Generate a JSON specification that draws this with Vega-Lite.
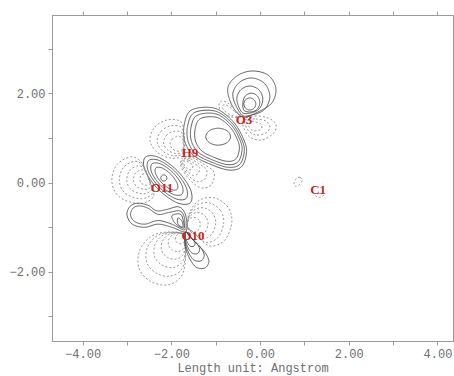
{
"$schema":"https://vega.github.io/schema/vega-lite/v6.json",
"width":401,"height":326,
"autosize":{"type":"none"},
"padding":{"left":52,"top":15,"right":1,"bottom":35},
"background":"white",
"config":{"view":{"stroke":"#9a9a9a","strokeWidth":1},
"axis":{"domainColor":"#9a9a9a","tickColor":"#9a9a9a","labelColor":"#6e6e6e","labelFont":"Liberation Mono","labelFontSize":12,"titleFont":"Liberation Mono","titleFontSize":12,"titleFontWeight":"normal","titleColor":"#6e6e6e","grid":false,"tickSize":4}},
"datasets":{
"atoms":[{"a":"O3","x":-0.36,"y":1.41},{"a":"H9","x":-1.58,"y":0.67},{"a":"O11","x":-2.21,"y":-0.12},{"a":"O10","x":-1.51,"y":-1.2},{"a":"C1","x":1.31,"y":-0.16}],
"ct":[
{"c":"A1","s":"p","i":0,"x":-0.185,"y":2.504},{"c":"A1","s":"p","i":1,"x":0.176,"y":2.415},{"c":"A1","s":"p","i":2,"x":0.356,"y":2.123},{"c":"A1","s":"p","i":3,"x":0.266,"y":1.787},{"c":"A1","s":"p","i":4,"x":-0.05,"y":1.585},{"c":"A1","s":"p","i":5,"x":-0.388,"y":1.473},{"c":"A1","s":"p","i":6,"x":-0.635,"y":1.742},{"c":"A1","s":"p","i":7,"x":-0.726,"y":2.123},{"c":"A1","s":"p","i":8,"x":-0.523,"y":2.392},
{"c":"A2","s":"p","i":0,"x":0.221,"y":1.933},{"c":"A2","s":"p","i":1,"x":0.099,"y":2.226},{"c":"A2","s":"p","i":2,"x":-0.196,"y":2.348},{"c":"A2","s":"p","i":3,"x":-0.491,"y":2.226},{"c":"A2","s":"p","i":4,"x":-0.613,"y":1.933},{"c":"A2","s":"p","i":5,"x":-0.42,"y":1.53},{"c":"A2","s":"p","i":6,"x":-0.196,"y":1.518},{"c":"A2","s":"p","i":7,"x":0.099,"y":1.64},
{"c":"A3","s":"p","i":0,"x":0.063,"y":1.865},{"c":"A3","s":"p","i":1,"x":-0.023,"y":2.079},{"c":"A3","s":"p","i":2,"x":-0.23,"y":2.168},{"c":"A3","s":"p","i":3,"x":-0.437,"y":2.079},{"c":"A3","s":"p","i":4,"x":-0.523,"y":1.865},{"c":"A3","s":"p","i":5,"x":-0.41,"y":1.58},{"c":"A3","s":"p","i":6,"x":-0.23,"y":1.562},{"c":"A3","s":"p","i":7,"x":-0.023,"y":1.651},
{"c":"A4","s":"p","i":0,"x":-0.006,"y":1.798},{"c":"A4","s":"p","i":1,"x":-0.062,"y":1.946},{"c":"A4","s":"p","i":2,"x":-0.196,"y":2.008},{"c":"A4","s":"p","i":3,"x":-0.33,"y":1.946},{"c":"A4","s":"p","i":4,"x":-0.386,"y":1.798},{"c":"A4","s":"p","i":5,"x":-0.36,"y":1.62},{"c":"A4","s":"p","i":6,"x":-0.196,"y":1.588},{"c":"A4","s":"p","i":7,"x":-0.062,"y":1.65},
{"c":"A5","s":"p","i":0,"x":-0.095,"y":1.765},{"c":"A5","s":"p","i":1,"x":-0.135,"y":1.86},{"c":"A5","s":"p","i":2,"x":-0.23,"y":1.9},{"c":"A5","s":"p","i":3,"x":-0.325,"y":1.86},{"c":"A5","s":"p","i":4,"x":-0.365,"y":1.765},{"c":"A5","s":"p","i":5,"x":-0.325,"y":1.67},{"c":"A5","s":"p","i":6,"x":-0.23,"y":1.63},{"c":"A5","s":"p","i":7,"x":-0.135,"y":1.67},
{"c":"B1","s":"p","i":0,"x":-1.544,"y":1.63},{"c":"B1","s":"p","i":1,"x":-1.019,"y":1.668},{"c":"B1","s":"p","i":2,"x":-0.606,"y":1.368},{"c":"B1","s":"p","i":3,"x":-0.381,"y":0.996},{"c":"B1","s":"p","i":4,"x":-0.304,"y":0.695},{"c":"B1","s":"p","i":5,"x":-0.417,"y":0.359},{"c":"B1","s":"p","i":6,"x":-0.719,"y":0.285},{"c":"B1","s":"p","i":7,"x":-1.17,"y":0.435},{"c":"B1","s":"p","i":8,"x":-1.508,"y":0.621},{"c":"B1","s":"p","i":9,"x":-1.695,"y":0.919},{"c":"B1","s":"p","i":10,"x":-1.71,"y":1.294},
{"c":"B2","s":"p","i":0,"x":-1.482,"y":1.57},{"c":"B2","s":"p","i":1,"x":-1.005,"y":1.604},{"c":"B2","s":"p","i":2,"x":-0.629,"y":1.331},{"c":"B2","s":"p","i":3,"x":-0.424,"y":0.993},{"c":"B2","s":"p","i":4,"x":-0.354,"y":0.719},{"c":"B2","s":"p","i":5,"x":-0.457,"y":0.413},{"c":"B2","s":"p","i":6,"x":-0.732,"y":0.346},{"c":"B2","s":"p","i":7,"x":-1.142,"y":0.482},{"c":"B2","s":"p","i":8,"x":-1.45,"y":0.652},{"c":"B2","s":"p","i":9,"x":-1.62,"y":0.923},{"c":"B2","s":"p","i":10,"x":-1.634,"y":1.264},
{"c":"B3","s":"p","i":0,"x":-1.421,"y":1.509},{"c":"B3","s":"p","i":1,"x":-0.99,"y":1.541},{"c":"B3","s":"p","i":2,"x":-0.652,"y":1.295},{"c":"B3","s":"p","i":3,"x":-0.467,"y":0.99},{"c":"B3","s":"p","i":4,"x":-0.404,"y":0.743},{"c":"B3","s":"p","i":5,"x":-0.497,"y":0.467},{"c":"B3","s":"p","i":6,"x":-0.744,"y":0.406},{"c":"B3","s":"p","i":7,"x":-1.114,"y":0.529},{"c":"B3","s":"p","i":8,"x":-1.391,"y":0.682},{"c":"B3","s":"p","i":9,"x":-1.545,"y":0.926},{"c":"B3","s":"p","i":10,"x":-1.557,"y":1.234},
{"c":"B4","s":"p","i":0,"x":-1.346,"y":1.436},{"c":"B4","s":"p","i":1,"x":-0.973,"y":1.463},{"c":"B4","s":"p","i":2,"x":-0.68,"y":1.25},{"c":"B4","s":"p","i":3,"x":-0.52,"y":0.986},{"c":"B4","s":"p","i":4,"x":-0.465,"y":0.772},{"c":"B4","s":"p","i":5,"x":-0.545,"y":0.533},{"c":"B4","s":"p","i":6,"x":-0.76,"y":0.481},{"c":"B4","s":"p","i":7,"x":-1.08,"y":0.587},{"c":"B4","s":"p","i":8,"x":-1.32,"y":0.719},{"c":"B4","s":"p","i":9,"x":-1.453,"y":0.931},{"c":"B4","s":"p","i":10,"x":-1.464,"y":1.197},
{"c":"B5","s":"p","i":0,"x":-0.664,"y":1.031},{"c":"B5","s":"p","i":1,"x":-0.746,"y":1.165},{"c":"B5","s":"p","i":2,"x":-0.944,"y":1.221},{"c":"B5","s":"p","i":3,"x":-1.142,"y":1.165},{"c":"B5","s":"p","i":4,"x":-1.224,"y":1.031},{"c":"B5","s":"p","i":5,"x":-1.142,"y":0.897},{"c":"B5","s":"p","i":6,"x":-0.944,"y":0.841},{"c":"B5","s":"p","i":7,"x":-0.746,"y":0.897},
{"c":"C1","s":"n","i":0,"x":-0.388,"y":1.428},{"c":"C1","s":"n","i":1,"x":-0.117,"y":1.495},{"c":"C1","s":"n","i":2,"x":0.176,"y":1.451},{"c":"C1","s":"n","i":3,"x":0.356,"y":1.316},{"c":"C1","s":"n","i":4,"x":0.311,"y":1.114},{"c":"C1","s":"n","i":5,"x":0.041,"y":0.957},{"c":"C1","s":"n","i":6,"x":-0.23,"y":1.025},{"c":"C1","s":"n","i":7,"x":-0.365,"y":1.226},
{"c":"C2","s":"n","i":0,"x":-0.343,"y":1.406},{"c":"C2","s":"n","i":1,"x":-0.095,"y":1.428},{"c":"C2","s":"n","i":2,"x":0.131,"y":1.383},{"c":"C2","s":"n","i":3,"x":0.221,"y":1.249},{"c":"C2","s":"n","i":4,"x":0.131,"y":1.114},{"c":"C2","s":"n","i":5,"x":-0.095,"y":1.07},{"c":"C2","s":"n","i":6,"x":-0.275,"y":1.182},
{"c":"C3","s":"n","i":0,"x":-0.297,"y":1.383},{"c":"C3","s":"n","i":1,"x":-0.095,"y":1.361},{"c":"C3","s":"n","i":2,"x":0.041,"y":1.294},{"c":"C3","s":"n","i":3,"x":-0.005,"y":1.182},{"c":"C3","s":"n","i":4,"x":-0.185,"y":1.182},
{"c":"D1","s":"n","i":0,"x":-0.41,"y":1.473},{"c":"D1","s":"n","i":1,"x":-0.568,"y":1.63},{"c":"D1","s":"n","i":2,"x":-0.726,"y":1.787},{"c":"D1","s":"n","i":3,"x":-0.861,"y":1.832},{"c":"D1","s":"n","i":4,"x":-0.928,"y":1.743},{"c":"D1","s":"n","i":5,"x":-0.861,"y":1.585},{"c":"D1","s":"n","i":6,"x":-0.635,"y":1.473},
{"c":"D2","s":"n","i":0,"x":-0.42,"y":1.49},{"c":"D2","s":"n","i":1,"x":-0.58,"y":1.6},{"c":"D2","s":"n","i":2,"x":-0.72,"y":1.72},{"c":"D2","s":"n","i":3,"x":-0.83,"y":1.74},{"c":"D2","s":"n","i":4,"x":-0.82,"y":1.63},{"c":"D2","s":"n","i":5,"x":-0.64,"y":1.51},
{"c":"E1","s":"n","i":0,"x":-2.483,"y":0.957},{"c":"E1","s":"n","i":1,"x":-2.371,"y":1.249},{"c":"E1","s":"n","i":2,"x":-2.1,"y":1.406},{"c":"E1","s":"n","i":3,"x":-1.807,"y":1.383},{"c":"E1","s":"n","i":4,"x":-1.72,"y":1.18},{"c":"E1","s":"n","i":5,"x":-1.7,"y":0.85},{"c":"E1","s":"n","i":6,"x":-1.74,"y":0.599},{"c":"E1","s":"n","i":7,"x":-2.033,"y":0.554},{"c":"E1","s":"n","i":8,"x":-2.326,"y":0.688},
{"c":"E2","s":"n","i":0,"x":-2.322,"y":0.922},{"c":"E2","s":"n","i":1,"x":-2.234,"y":1.15},{"c":"E2","s":"n","i":2,"x":-2.023,"y":1.273},{"c":"E2","s":"n","i":3,"x":-1.794,"y":1.255},{"c":"E2","s":"n","i":4,"x":-1.727,"y":1.096},{"c":"E2","s":"n","i":5,"x":-1.711,"y":0.839},{"c":"E2","s":"n","i":6,"x":-1.742,"y":0.643},{"c":"E2","s":"n","i":7,"x":-1.971,"y":0.608},{"c":"E2","s":"n","i":8,"x":-2.199,"y":0.713},
{"c":"E3","s":"n","i":0,"x":-2.175,"y":0.891},{"c":"E3","s":"n","i":1,"x":-2.11,"y":1.06},{"c":"E3","s":"n","i":2,"x":-1.953,"y":1.151},{"c":"E3","s":"n","i":3,"x":-1.783,"y":1.138},{"c":"E3","s":"n","i":4,"x":-1.733,"y":1.02},{"c":"E3","s":"n","i":5,"x":-1.721,"y":0.829},{"c":"E3","s":"n","i":6,"x":-1.744,"y":0.683},{"c":"E3","s":"n","i":7,"x":-1.914,"y":0.657},{"c":"E3","s":"n","i":8,"x":-2.084,"y":0.735},
{"c":"E4","s":"n","i":0,"x":-2.029,"y":0.86},{"c":"E4","s":"n","i":1,"x":-1.986,"y":0.971},{"c":"E4","s":"n","i":2,"x":-1.883,"y":1.03},{"c":"E4","s":"n","i":3,"x":-1.772,"y":1.022},{"c":"E4","s":"n","i":4,"x":-1.739,"y":0.944},{"c":"E4","s":"n","i":5,"x":-1.731,"y":0.819},{"c":"E4","s":"n","i":6,"x":-1.746,"y":0.724},{"c":"E4","s":"n","i":7,"x":-1.858,"y":0.707},{"c":"E4","s":"n","i":8,"x":-1.969,"y":0.757},
{"c":"F1","s":"n","i":0,"x":-1.74,"y":0.56},{"c":"F1","s":"n","i":1,"x":-1.52,"y":0.56},{"c":"F1","s":"n","i":2,"x":-1.28,"y":0.42},{"c":"F1","s":"n","i":3,"x":-1.041,"y":0.24},{"c":"F1","s":"n","i":4,"x":-1.086,"y":-0.029},{"c":"F1","s":"n","i":5,"x":-1.312,"y":-0.119},{"c":"F1","s":"n","i":6,"x":-1.582,"y":0.061},{"c":"F1","s":"n","i":7,"x":-1.785,"y":0.374},
{"c":"F2","s":"n","i":0,"x":-1.73,"y":0.533},{"c":"F2","s":"n","i":1,"x":-1.565,"y":0.533},{"c":"F2","s":"n","i":2,"x":-1.385,"y":0.427},{"c":"F2","s":"n","i":3,"x":-1.206,"y":0.292},{"c":"F2","s":"n","i":4,"x":-1.239,"y":0.091},{"c":"F2","s":"n","i":5,"x":-1.409,"y":0.023},{"c":"F2","s":"n","i":6,"x":-1.611,"y":0.158},{"c":"F2","s":"n","i":7,"x":-1.764,"y":0.393},
{"c":"F3","s":"n","i":0,"x":-1.72,"y":0.505},{"c":"F3","s":"n","i":1,"x":-1.61,"y":0.505},{"c":"F3","s":"n","i":2,"x":-1.49,"y":0.435},{"c":"F3","s":"n","i":3,"x":-1.37,"y":0.345},{"c":"F3","s":"n","i":4,"x":-1.393,"y":0.21},{"c":"F3","s":"n","i":5,"x":-1.506,"y":0.165},{"c":"F3","s":"n","i":6,"x":-1.641,"y":0.255},{"c":"F3","s":"n","i":7,"x":-1.743,"y":0.412},
{"c":"F4","s":"n","i":0,"x":-1.711,"y":0.481},{"c":"F4","s":"n","i":1,"x":-1.65,"y":0.481},{"c":"F4","s":"n","i":2,"x":-1.582,"y":0.442},{"c":"F4","s":"n","i":3,"x":-1.515,"y":0.391},{"c":"F4","s":"n","i":4,"x":-1.528,"y":0.316},{"c":"F4","s":"n","i":5,"x":-1.591,"y":0.291},{"c":"F4","s":"n","i":6,"x":-1.667,"y":0.341},{"c":"F4","s":"n","i":7,"x":-1.724,"y":0.429},
{"c":"G1","s":"p","i":0,"x":-1.571,"y":-0.449},{"c":"G1","s":"p","i":1,"x":-1.57,"y":-0.15},{"c":"G1","s":"p","i":2,"x":-1.868,"y":0.272},{"c":"G1","s":"p","i":3,"x":-2.29,"y":0.57},{"c":"G1","s":"p","i":4,"x":-2.589,"y":0.569},{"c":"G1","s":"p","i":5,"x":-2.59,"y":0.27},{"c":"G1","s":"p","i":6,"x":-2.292,"y":-0.152},{"c":"G1","s":"p","i":7,"x":-1.87,"y":-0.45},
{"c":"G2","s":"p","i":0,"x":-1.666,"y":-0.354},{"c":"G2","s":"p","i":1,"x":-1.665,"y":-0.105},{"c":"G2","s":"p","i":2,"x":-1.913,"y":0.247},{"c":"G2","s":"p","i":3,"x":-2.265,"y":0.495},{"c":"G2","s":"p","i":4,"x":-2.514,"y":0.494},{"c":"G2","s":"p","i":5,"x":-2.515,"y":0.245},{"c":"G2","s":"p","i":6,"x":-2.267,"y":-0.107},{"c":"G2","s":"p","i":7,"x":-1.915,"y":-0.355},
{"c":"G3","s":"p","i":0,"x":-1.761,"y":-0.259},{"c":"G3","s":"p","i":1,"x":-1.76,"y":-0.06},{"c":"G3","s":"p","i":2,"x":-1.959,"y":0.221},{"c":"G3","s":"p","i":3,"x":-2.24,"y":0.42},{"c":"G3","s":"p","i":4,"x":-2.439,"y":0.419},{"c":"G3","s":"p","i":5,"x":-2.44,"y":0.22},{"c":"G3","s":"p","i":6,"x":-2.241,"y":-0.061},{"c":"G3","s":"p","i":7,"x":-1.96,"y":-0.26},
{"c":"G4","s":"p","i":0,"x":-1.87,"y":-0.15},{"c":"G4","s":"p","i":1,"x":-1.87,"y":-0.01},{"c":"G4","s":"p","i":2,"x":-2.011,"y":0.189},{"c":"G4","s":"p","i":3,"x":-2.21,"y":0.33},{"c":"G4","s":"p","i":4,"x":-2.35,"y":0.33},{"c":"G4","s":"p","i":5,"x":-2.35,"y":0.19},{"c":"G4","s":"p","i":6,"x":-2.209,"y":-0.009},{"c":"G4","s":"p","i":7,"x":-2.01,"y":-0.15},
{"c":"G5","s":"p","i":0,"x":-2.098,"y":0.105},{"c":"G5","s":"p","i":1,"x":-2.133,"y":0.166},{"c":"G5","s":"p","i":2,"x":-2.203,"y":0.166},{"c":"G5","s":"p","i":3,"x":-2.238,"y":0.105},{"c":"G5","s":"p","i":4,"x":-2.203,"y":0.044},{"c":"G5","s":"p","i":5,"x":-2.133,"y":0.044},
{"c":"H1","s":"n","i":0,"x":-2.52,"y":0.1},{"c":"H1","s":"n","i":1,"x":-2.66,"y":0.44},{"c":"H1","s":"n","i":2,"x":-2.9,"y":0.58},{"c":"H1","s":"n","i":3,"x":-3.23,"y":0.4},{"c":"H1","s":"n","i":4,"x":-3.34,"y":0.02},{"c":"H1","s":"n","i":5,"x":-3.17,"y":-0.32},{"c":"H1","s":"n","i":6,"x":-2.72,"y":-0.47},{"c":"H1","s":"n","i":7,"x":-2.4,"y":-0.3},
{"c":"H2","s":"n","i":0,"x":-2.516,"y":0.096},{"c":"H2","s":"n","i":1,"x":-2.628,"y":0.368},{"c":"H2","s":"n","i":2,"x":-2.82,"y":0.48},{"c":"H2","s":"n","i":3,"x":-3.084,"y":0.336},{"c":"H2","s":"n","i":4,"x":-3.172,"y":0.032},{"c":"H2","s":"n","i":5,"x":-3.036,"y":-0.24},{"c":"H2","s":"n","i":6,"x":-2.676,"y":-0.36},{"c":"H2","s":"n","i":7,"x":-2.42,"y":-0.224},
{"c":"H3","s":"n","i":0,"x":-2.512,"y":0.092},{"c":"H3","s":"n","i":1,"x":-2.596,"y":0.296},{"c":"H3","s":"n","i":2,"x":-2.74,"y":0.38},{"c":"H3","s":"n","i":3,"x":-2.938,"y":0.272},{"c":"H3","s":"n","i":4,"x":-3.004,"y":0.044},{"c":"H3","s":"n","i":5,"x":-2.902,"y":-0.16},{"c":"H3","s":"n","i":6,"x":-2.632,"y":-0.25},{"c":"H3","s":"n","i":7,"x":-2.44,"y":-0.148},
{"c":"H4","s":"n","i":0,"x":-2.508,"y":0.088},{"c":"H4","s":"n","i":1,"x":-2.567,"y":0.231},{"c":"H4","s":"n","i":2,"x":-2.668,"y":0.29},{"c":"H4","s":"n","i":3,"x":-2.807,"y":0.214},{"c":"H4","s":"n","i":4,"x":-2.853,"y":0.055},{"c":"H4","s":"n","i":5,"x":-2.781,"y":-0.088},{"c":"H4","s":"n","i":6,"x":-2.592,"y":-0.151},{"c":"H4","s":"n","i":7,"x":-2.458,"y":-0.08},
{"c":"H5","s":"n","i":0,"x":-2.505,"y":0.085},{"c":"H5","s":"n","i":1,"x":-2.54,"y":0.17},{"c":"H5","s":"n","i":2,"x":-2.6,"y":0.205},{"c":"H5","s":"n","i":3,"x":-2.683,"y":0.16},{"c":"H5","s":"n","i":4,"x":-2.71,"y":0.065},{"c":"H5","s":"n","i":5,"x":-2.668,"y":-0.02},{"c":"H5","s":"n","i":6,"x":-2.555,"y":-0.058},{"c":"H5","s":"n","i":7,"x":-2.475,"y":-0.015},
{"c":"J1","s":"p","i":0,"x":-3.0,"y":-0.72},{"c":"J1","s":"p","i":1,"x":-2.93,"y":-0.53},{"c":"J1","s":"p","i":2,"x":-2.75,"y":-0.46},{"c":"J1","s":"p","i":3,"x":-2.52,"y":-0.51},{"c":"J1","s":"p","i":4,"x":-2.33,"y":-0.63},{"c":"J1","s":"p","i":5,"x":-2.1,"y":-0.6},{"c":"J1","s":"p","i":6,"x":-1.84,"y":-0.54},{"c":"J1","s":"p","i":7,"x":-1.695,"y":-0.679},{"c":"J1","s":"p","i":8,"x":-1.65,"y":-0.948},{"c":"J1","s":"p","i":9,"x":-1.695,"y":-1.105},{"c":"J1","s":"p","i":10,"x":-1.988,"y":-1.0},{"c":"J1","s":"p","i":11,"x":-2.3,"y":-0.93},{"c":"J1","s":"p","i":12,"x":-2.6,"y":-1.0},{"c":"J1","s":"p","i":13,"x":-2.88,"y":-0.93},
{"c":"J2","s":"p","i":0,"x":-2.92,"y":-0.72},{"c":"J2","s":"p","i":1,"x":-2.86,"y":-0.57},{"c":"J2","s":"p","i":2,"x":-2.72,"y":-0.52},{"c":"J2","s":"p","i":3,"x":-2.53,"y":-0.57},{"c":"J2","s":"p","i":4,"x":-2.3,"y":-0.71},{"c":"J2","s":"p","i":5,"x":-2.06,"y":-0.67},{"c":"J2","s":"p","i":6,"x":-1.82,"y":-0.63},{"c":"J2","s":"p","i":7,"x":-1.717,"y":-0.746},{"c":"J2","s":"p","i":8,"x":-1.695,"y":-0.971},{"c":"J2","s":"p","i":9,"x":-1.717,"y":-1.061},{"c":"J2","s":"p","i":10,"x":-1.99,"y":-0.93},{"c":"J2","s":"p","i":11,"x":-2.3,"y":-0.85},{"c":"J2","s":"p","i":12,"x":-2.6,"y":-0.93},{"c":"J2","s":"p","i":13,"x":-2.83,"y":-0.87},
{"c":"J3","s":"p","i":0,"x":-1.988,"y":-0.746},{"c":"J3","s":"p","i":1,"x":-1.807,"y":-0.702},{"c":"J3","s":"p","i":2,"x":-1.74,"y":-0.814},{"c":"J3","s":"p","i":3,"x":-1.717,"y":-1.016},{"c":"J3","s":"p","i":4,"x":-1.898,"y":-0.926},
{"c":"J4","s":"p","i":0,"x":-1.852,"y":-0.791},{"c":"J4","s":"p","i":1,"x":-1.762,"y":-0.859},{"c":"J4","s":"p","i":2,"x":-1.74,"y":-0.993},{"c":"J4","s":"p","i":3,"x":-1.852,"y":-0.926},
{"c":"K1","s":"n","i":0,"x":-0.636,"y":-0.881},{"c":"K1","s":"n","i":1,"x":-0.726,"y":-0.545},{"c":"K1","s":"n","i":2,"x":-1.019,"y":-0.343},{"c":"K1","s":"n","i":3,"x":-1.357,"y":-0.388},{"c":"K1","s":"n","i":4,"x":-1.582,"y":-0.657},{"c":"K1","s":"n","i":5,"x":-1.628,"y":-1.016},{"c":"K1","s":"n","i":6,"x":-1.42,"y":-1.2},{"c":"K1","s":"n","i":7,"x":-1.12,"y":-1.42},{"c":"K1","s":"n","i":8,"x":-0.793,"y":-1.285},
{"c":"K2","s":"n","i":0,"x":-0.819,"y":-0.897},{"c":"K2","s":"n","i":1,"x":-0.892,"y":-0.622},{"c":"K2","s":"n","i":2,"x":-1.133,"y":-0.456},{"c":"K2","s":"n","i":3,"x":-1.41,"y":-0.493},{"c":"K2","s":"n","i":4,"x":-1.594,"y":-0.714},{"c":"K2","s":"n","i":5,"x":-1.632,"y":-1.008},{"c":"K2","s":"n","i":6,"x":-1.461,"y":-1.159},{"c":"K2","s":"n","i":7,"x":-1.215,"y":-1.339},{"c":"K2","s":"n","i":8,"x":-0.947,"y":-1.228},
{"c":"K3","s":"n","i":0,"x":-1.001,"y":-0.913},{"c":"K3","s":"n","i":1,"x":-1.059,"y":-0.698},{"c":"K3","s":"n","i":2,"x":-1.246,"y":-0.569},{"c":"K3","s":"n","i":3,"x":-1.462,"y":-0.598},{"c":"K3","s":"n","i":4,"x":-1.606,"y":-0.77},{"c":"K3","s":"n","i":5,"x":-1.636,"y":-1.0},{"c":"K3","s":"n","i":6,"x":-1.503,"y":-1.118},{"c":"K3","s":"n","i":7,"x":-1.311,"y":-1.258},{"c":"K3","s":"n","i":8,"x":-1.102,"y":-1.172},
{"c":"K4","s":"n","i":0,"x":-1.173,"y":-0.929},{"c":"K4","s":"n","i":1,"x":-1.216,"y":-0.771},{"c":"K4","s":"n","i":2,"x":-1.353,"y":-0.676},{"c":"K4","s":"n","i":3,"x":-1.512,"y":-0.697},{"c":"K4","s":"n","i":4,"x":-1.618,"y":-0.823},{"c":"K4","s":"n","i":5,"x":-1.64,"y":-0.992},{"c":"K4","s":"n","i":6,"x":-1.542,"y":-1.079},{"c":"K4","s":"n","i":7,"x":-1.401,"y":-1.182},{"c":"K4","s":"n","i":8,"x":-1.247,"y":-1.119},
{"c":"K5","s":"n","i":0,"x":-1.346,"y":-0.944},{"c":"K5","s":"n","i":1,"x":-1.373,"y":-0.843},{"c":"K5","s":"n","i":2,"x":-1.461,"y":-0.783},{"c":"K5","s":"n","i":3,"x":-1.562,"y":-0.796},{"c":"K5","s":"n","i":4,"x":-1.63,"y":-0.877},{"c":"K5","s":"n","i":5,"x":-1.643,"y":-0.985},{"c":"K5","s":"n","i":6,"x":-1.581,"y":-1.04},{"c":"K5","s":"n","i":7,"x":-1.491,"y":-1.106},{"c":"K5","s":"n","i":8,"x":-1.393,"y":-1.065},
{"c":"L1","s":"n","i":0,"x":-1.72,"y":-1.2},{"c":"L1","s":"n","i":1,"x":-2.033,"y":-1.105},{"c":"L1","s":"n","i":2,"x":-2.438,"y":-1.195},{"c":"L1","s":"n","i":3,"x":-2.709,"y":-1.509},{"c":"L1","s":"n","i":4,"x":-2.731,"y":-1.913},{"c":"L1","s":"n","i":5,"x":-2.483,"y":-2.204},{"c":"L1","s":"n","i":6,"x":-2.1,"y":-2.294},{"c":"L1","s":"n","i":7,"x":-1.785,"y":-2.114},{"c":"L1","s":"n","i":8,"x":-1.68,"y":-1.73},
{"c":"L2","s":"n","i":0,"x":-1.717,"y":-1.19},{"c":"L2","s":"n","i":1,"x":-1.976,"y":-1.111},{"c":"L2","s":"n","i":2,"x":-2.313,"y":-1.186},{"c":"L2","s":"n","i":3,"x":-2.537,"y":-1.446},{"c":"L2","s":"n","i":4,"x":-2.556,"y":-1.782},{"c":"L2","s":"n","i":5,"x":-2.35,"y":-2.023},{"c":"L2","s":"n","i":6,"x":-2.032,"y":-2.098},{"c":"L2","s":"n","i":7,"x":-1.771,"y":-1.948},{"c":"L2","s":"n","i":8,"x":-1.683,"y":-1.63},
{"c":"L3","s":"n","i":0,"x":-1.713,"y":-1.18},{"c":"L3","s":"n","i":1,"x":-1.92,"y":-1.117},{"c":"L3","s":"n","i":2,"x":-2.187,"y":-1.176},{"c":"L3","s":"n","i":3,"x":-2.366,"y":-1.384},{"c":"L3","s":"n","i":4,"x":-2.38,"y":-1.65},{"c":"L3","s":"n","i":5,"x":-2.217,"y":-1.842},{"c":"L3","s":"n","i":6,"x":-1.964,"y":-1.902},{"c":"L3","s":"n","i":7,"x":-1.756,"y":-1.783},{"c":"L3","s":"n","i":8,"x":-1.687,"y":-1.529},
{"c":"L4","s":"n","i":0,"x":-1.71,"y":-1.17},{"c":"L4","s":"n","i":1,"x":-1.867,"y":-1.122},{"c":"L4","s":"n","i":2,"x":-2.069,"y":-1.168},{"c":"L4","s":"n","i":3,"x":-2.205,"y":-1.325},{"c":"L4","s":"n","i":4,"x":-2.216,"y":-1.527},{"c":"L4","s":"n","i":5,"x":-2.092,"y":-1.672},{"c":"L4","s":"n","i":6,"x":-1.9,"y":-1.717},{"c":"L4","s":"n","i":7,"x":-1.743,"y":-1.627},{"c":"L4","s":"n","i":8,"x":-1.69,"y":-1.435},
{"c":"L5","s":"n","i":0,"x":-1.707,"y":-1.161},{"c":"L5","s":"n","i":1,"x":-1.817,"y":-1.128},{"c":"L5","s":"n","i":2,"x":-1.958,"y":-1.159},{"c":"L5","s":"n","i":3,"x":-2.053,"y":-1.269},{"c":"L5","s":"n","i":4,"x":-2.061,"y":-1.411},{"c":"L5","s":"n","i":5,"x":-1.974,"y":-1.512},{"c":"L5","s":"n","i":6,"x":-1.84,"y":-1.544},{"c":"L5","s":"n","i":7,"x":-1.73,"y":-1.481},{"c":"L5","s":"n","i":8,"x":-1.693,"y":-1.347},
{"c":"L6","s":"n","i":0,"x":-1.704,"y":-1.152},{"c":"L6","s":"n","i":1,"x":-1.767,"y":-1.133},{"c":"L6","s":"n","i":2,"x":-1.848,"y":-1.151},{"c":"L6","s":"n","i":3,"x":-1.902,"y":-1.214},{"c":"L6","s":"n","i":4,"x":-1.906,"y":-1.295},{"c":"L6","s":"n","i":5,"x":-1.857,"y":-1.353},{"c":"L6","s":"n","i":6,"x":-1.78,"y":-1.371},{"c":"L6","s":"n","i":7,"x":-1.717,"y":-1.335},{"c":"L6","s":"n","i":8,"x":-1.696,"y":-1.258},
{"c":"M1","s":"p","i":0,"x":-1.672,"y":-1.105},{"c":"M1","s":"p","i":1,"x":-1.492,"y":-1.307},{"c":"M1","s":"p","i":2,"x":-1.266,"y":-1.531},{"c":"M1","s":"p","i":3,"x":-1.154,"y":-1.755},{"c":"M1","s":"p","i":4,"x":-1.244,"y":-1.913},{"c":"M1","s":"p","i":5,"x":-1.447,"y":-1.89},{"c":"M1","s":"p","i":6,"x":-1.605,"y":-1.666},{"c":"M1","s":"p","i":7,"x":-1.695,"y":-1.374},
{"c":"M2","s":"p","i":0,"x":-1.672,"y":-1.105},{"c":"M2","s":"p","i":1,"x":-1.528,"y":-1.267},{"c":"M2","s":"p","i":2,"x":-1.347,"y":-1.446},{"c":"M2","s":"p","i":3,"x":-1.258,"y":-1.625},{"c":"M2","s":"p","i":4,"x":-1.33,"y":-1.751},{"c":"M2","s":"p","i":5,"x":-1.492,"y":-1.733},{"c":"M2","s":"p","i":6,"x":-1.618,"y":-1.554},{"c":"M2","s":"p","i":7,"x":-1.69,"y":-1.32},
{"c":"M3","s":"p","i":0,"x":-1.672,"y":-1.105},{"c":"M3","s":"p","i":1,"x":-1.564,"y":-1.226},{"c":"M3","s":"p","i":2,"x":-1.428,"y":-1.361},{"c":"M3","s":"p","i":3,"x":-1.361,"y":-1.495},{"c":"M3","s":"p","i":4,"x":-1.415,"y":-1.59},{"c":"M3","s":"p","i":5,"x":-1.537,"y":-1.576},{"c":"M3","s":"p","i":6,"x":-1.632,"y":-1.442},{"c":"M3","s":"p","i":7,"x":-1.686,"y":-1.266},
{"c":"M4","s":"p","i":0,"x":-1.672,"y":-1.105},{"c":"M4","s":"p","i":1,"x":-1.6,"y":-1.186},{"c":"M4","s":"p","i":2,"x":-1.51,"y":-1.275},{"c":"M4","s":"p","i":3,"x":-1.465,"y":-1.365},{"c":"M4","s":"p","i":4,"x":-1.501,"y":-1.428},{"c":"M4","s":"p","i":5,"x":-1.582,"y":-1.419},{"c":"M4","s":"p","i":6,"x":-1.645,"y":-1.329},{"c":"M4","s":"p","i":7,"x":-1.681,"y":-1.213},
{"c":"N1","s":"n","i":0,"x":0.95,"y":0.05},{"c":"N1","s":"n","i":1,"x":0.9,"y":0.12},{"c":"N1","s":"n","i":2,"x":0.82,"y":0.09},{"c":"N1","s":"n","i":3,"x":0.76,"y":-0.02},{"c":"N1","s":"n","i":4,"x":0.8,"y":-0.08},{"c":"N1","s":"n","i":5,"x":0.88,"y":-0.05},
{"c":"N2","s":"n","i":0,"x":1.43,"y":-0.29},{"c":"N2","s":"n","i":1,"x":1.33,"y":-0.24},{"c":"N2","s":"n","i":2,"x":1.25,"y":-0.29},{"c":"N2","s":"n","i":3,"x":1.33,"y":-0.33}
]},
"layer":[
{"data":{"name":"ct"},
"mark":{"type":"line","interpolate":"cardinal-closed","strokeWidth":0.9,"clip":true},
"encoding":{
"x":{"field":"x","type":"quantitative","scale":{"domain":[-4.69,4.35],"nice":false,"zero":false},
"axis":{"orient":"bottom","values":[-4,-3,-2,-1,0,1,2,3,4],"labelExpr":"datum.value % 2 === 0 ? format(datum.value, '.2f') : ''","title":"Length unit: Angstrom","labelPadding":3,"titlePadding":3,"labelOverlap":false,"labelFlush":false}},
"y":{"field":"y","type":"quantitative","scale":{"domain":[-3.55,3.76],"nice":false,"zero":false},
"axis":{"orient":"left","values":[-3,-2,-1,0,1,2,3],"labelExpr":"datum.value % 2 === 0 ? format(datum.value, '.2f') : ''","title":null,"labelPadding":3,"labelOverlap":false,"labelFlush":false}},
"detail":{"field":"c","type":"nominal"},
"order":{"field":"i","type":"quantitative"},
"color":{"field":"s","type":"nominal","scale":{"domain":["p","n"],"range":["#4d4d4d","#8c8c8c"]},"legend":null},
"strokeDash":{"field":"s","type":"nominal","scale":{"domain":["p","n"],"range":[[1,0],[2,2]]},"legend":null}
}},
{"data":{"name":"atoms"},
"mark":{"type":"text","font":"Liberation Serif","fontWeight":"bold","fontSize":13,"fill":"#cc1f1f","align":"center","baseline":"middle"},
"encoding":{
"x":{"field":"x","type":"quantitative","scale":{"domain":[-4.69,4.35],"nice":false,"zero":false},
"axis":{"orient":"top","values":[-4,-3,-2,-1,0,1,2,3,4],"labels":false,"title":null}},
"y":{"field":"y","type":"quantitative","scale":{"domain":[-3.55,3.76],"nice":false,"zero":false},
"axis":{"orient":"right","values":[-3,-2,-1,0,1,2,3],"labels":false,"title":null}},
"text":{"field":"a","type":"nominal"}
}}
],
"resolve":{"axis":{"x":"independent","y":"independent"}}
}
